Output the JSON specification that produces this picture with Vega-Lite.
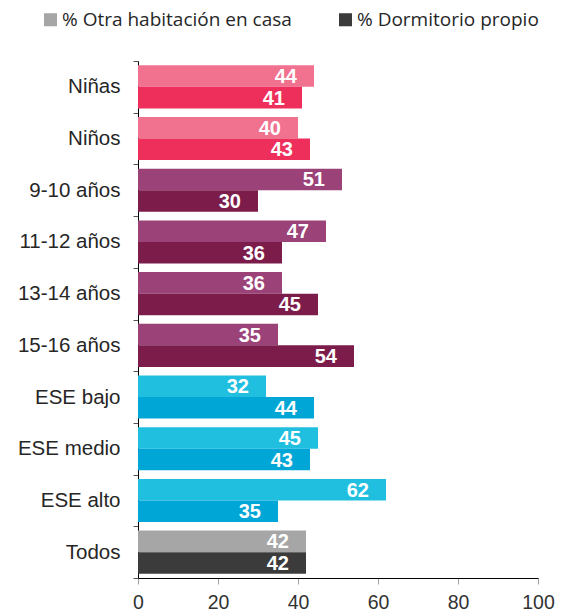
{
  "$schema": "https://vega.github.io/schema/vega-lite/v6.json",
  "width": 400,
  "height": 517,
  "autosize": {"type": "none"},
  "padding": {"left": 138, "top": 61, "right": 24, "bottom": 38},
  "background": "white",
  "config": {
    "view": {"stroke": null},
    "font": "Liberation Sans"
  },
  "data": {
    "values": [
      {"categoria": "Niñas", "serie": "Otra", "tono": "Género·Otra", "valor": 44},
      {"categoria": "Niñas", "serie": "Dormitorio", "tono": "Género·Dormitorio", "valor": 41},
      {"categoria": "Niños", "serie": "Otra", "tono": "Género·Otra", "valor": 40},
      {"categoria": "Niños", "serie": "Dormitorio", "tono": "Género·Dormitorio", "valor": 43},
      {"categoria": "9-10 años", "serie": "Otra", "tono": "Edad·Otra", "valor": 51},
      {"categoria": "9-10 años", "serie": "Dormitorio", "tono": "Edad·Dormitorio", "valor": 30},
      {"categoria": "11-12 años", "serie": "Otra", "tono": "Edad·Otra", "valor": 47},
      {"categoria": "11-12 años", "serie": "Dormitorio", "tono": "Edad·Dormitorio", "valor": 36},
      {"categoria": "13-14 años", "serie": "Otra", "tono": "Edad·Otra", "valor": 36},
      {"categoria": "13-14 años", "serie": "Dormitorio", "tono": "Edad·Dormitorio", "valor": 45},
      {"categoria": "15-16 años", "serie": "Otra", "tono": "Edad·Otra", "valor": 35},
      {"categoria": "15-16 años", "serie": "Dormitorio", "tono": "Edad·Dormitorio", "valor": 54},
      {"categoria": "ESE bajo", "serie": "Otra", "tono": "ESE·Otra", "valor": 32},
      {"categoria": "ESE bajo", "serie": "Dormitorio", "tono": "ESE·Dormitorio", "valor": 44},
      {"categoria": "ESE medio", "serie": "Otra", "tono": "ESE·Otra", "valor": 45},
      {"categoria": "ESE medio", "serie": "Dormitorio", "tono": "ESE·Dormitorio", "valor": 43},
      {"categoria": "ESE alto", "serie": "Otra", "tono": "ESE·Otra", "valor": 62},
      {"categoria": "ESE alto", "serie": "Dormitorio", "tono": "ESE·Dormitorio", "valor": 35},
      {"categoria": "Todos", "serie": "Otra", "tono": "% Otra habitación en casa", "valor": 42},
      {"categoria": "Todos", "serie": "Dormitorio", "tono": "% Dormitorio propio", "valor": 42}
    ]
  },
  "encoding": {
    "y": {
      "field": "categoria",
      "type": "nominal",
      "sort": null,
      "scale": {"paddingInner": 0, "paddingOuter": 0},
      "axis": {
        "title": null,
        "domainColor": "#000000",
        "domainWidth": 1,
        "tickColor": "#555555",
        "tickSize": 5,
        "tickBand": "extent",
        "labelFontSize": 20.5,
        "labelColor": "#262626",
        "labelPadding": 13
      }
    },
    "yOffset": {
      "field": "serie",
      "type": "nominal",
      "scale": {"domain": ["Otra", "Dormitorio"], "paddingInner": 0, "paddingOuter": 0.2}
    },
    "x": {
      "field": "valor",
      "type": "quantitative",
      "scale": {"domain": [0, 100], "nice": false},
      "axis": {
        "title": null,
        "values": [0, 20, 40, 60, 80, 100],
        "grid": false,
        "domainColor": "#000000",
        "tickColor": "#a0a0a0",
        "tickSize": 6,
        "labelFontSize": 19.5,
        "labelColor": "#333333",
        "labelPadding": 9,
        "labelFlush": false
      }
    }
  },
  "layer": [
    {
      "mark": {"type": "bar"},
      "encoding": {
        "color": {
          "field": "tono",
          "type": "nominal",
          "scale": {
            "domain": ["Género·Otra", "Género·Dormitorio", "Edad·Otra", "Edad·Dormitorio", "ESE·Otra", "ESE·Dormitorio", "% Otra habitación en casa", "% Dormitorio propio"],
            "range": ["#f0728f", "#ee2e5b", "#9b4279", "#7b1c4b", "#20bfe0", "#00a6d6", "#a6a6a6", "#3b3b3b"]
          },
          "legend": {
            "values": ["% Otra habitación en casa", "% Dormitorio propio"],
            "title": null,
            "orient": "none",
            "direction": "horizontal",
            "legendX": -97,
            "legendY": -51,
            "symbolType": "square",
            "symbolSize": 170,
            "symbolStrokeWidth": 0,
            "labelFont": "Open Sans",
            "labelFontSize": 19,
            "labelLimit": 400,
            "labelColor": "#262626",
            "labelOffset": 2,
            "columnPadding": 44
          }
        }
      }
    },
    {
      "mark": {"type": "text", "align": "right", "baseline": "middle", "dx": -17, "dy": 1, "fontSize": 20, "fontWeight": "bold", "color": "white"},
      "encoding": {
        "text": {"field": "valor", "type": "quantitative"}
      }
    }
  ]
}
